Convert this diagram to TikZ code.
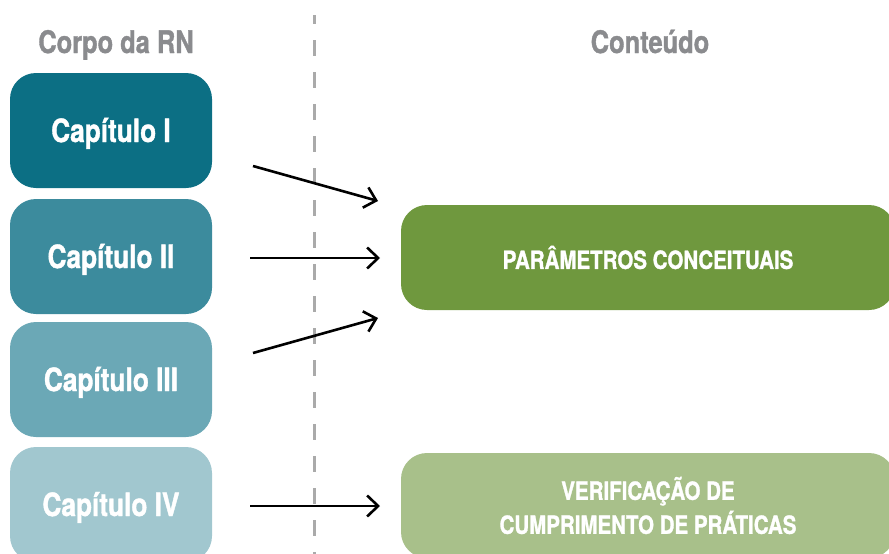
\documentclass[tikz,border=0pt]{standalone}
\usepackage{fontspec}
\setmainfont{TeX Gyre Heros}[FakeStretch=0.82, BoldFeatures={FakeBold=1.2}]
\usepackage{tikz}
\usetikzlibrary{arrows.meta}
\usetikzlibrary{positioning}

\definecolor{capI}{HTML}{0C6F84}
\definecolor{capII}{HTML}{3C8B9D}
\definecolor{capIII}{HTML}{6BA8B6}
\definecolor{capIV}{HTML}{A1C7CF}
\definecolor{verde}{HTML}{6F983E}
\definecolor{verdeclaro}{HTML}{A8C08A}
\definecolor{cinza}{HTML}{8A8B8E}
\definecolor{tracejado}{HTML}{AAAAAA}

\tikzset{
	capitulo/.style={rounded corners=26pt, minimum width=202pt, minimum height=115pt, inner sep=0pt,
		text=white, font=\bfseries\fontsize{32}{36}\selectfont, text height=23pt, text depth=0pt},
	conteudo/.style={rounded corners=26pt, minimum width=494pt, minimum height=105pt, inner sep=0pt,
		text=white, font=\bfseries\fontsize{25}{34}\selectfont, align=center},
	titulo/.style={text=cinza, font=\bfseries\fontsize{31}{36}\selectfont, anchor=base},
	seta/.style={line width=2.6pt, -{Straight Barb[length=11pt, width=21pt, line width=2.6pt]}}
}

\begin{document}
\begin{tikzpicture}[x=1pt, y=-1pt]
				\useasboundingbox (0, 0) rectangle (889, 554);
				\clip (0, 0) rectangle (889, 554);

				\draw[color=tracejado, line width=3pt, dash pattern=on 16pt off 16pt, dash phase=7pt] (314, 15) -- (314, 560);

				\node[titulo] (corpo) at (116, 53) {Corpo da RN};
				\node[titulo] (cont) at (650, 53) {Conteúdo};

				\node[capitulo, fill=capI] (cap1) at (111, 130.5) {Capítulo I};
				\node[capitulo, fill=capII] (cap2) at (111, 256.5) {Capítulo II};
				\node[capitulo, fill=capIII] (cap3) at (111, 379.5) {Capítulo III};
				\node[capitulo, fill=capIV] (cap4) at (111, 504.5) {Capítulo IV};

				\node[conteudo, fill=verde] (param) at (648, 257.5) {PARÂMETROS CONCEITUAIS};
				\node[conteudo, fill=verdeclaro] (verif) at (648, 505.5) {VERIFICAÇÃO DE\\CUMPRIMENTO DE PRÁTICAS};

				% pontas das setas
				\coordinate (s1) at (253, 166);
				\coordinate (e1) at (378, 201);
				\coordinate (s2) at (250, 258);
				\coordinate (e2) at (380, 258);
				\coordinate (s3) at (253, 353);
				\coordinate (e3) at (378, 318);
				\coordinate (s4) at (250, 506);
				\coordinate (e4) at (380, 506);

				\draw[seta] (s1) -- (e1);
				\draw[seta] (s2) -- (e2);
				\draw[seta] (s3) -- (e3);
				\draw[seta] (s4) -- (e4);
			\end{tikzpicture}
\end{document}
